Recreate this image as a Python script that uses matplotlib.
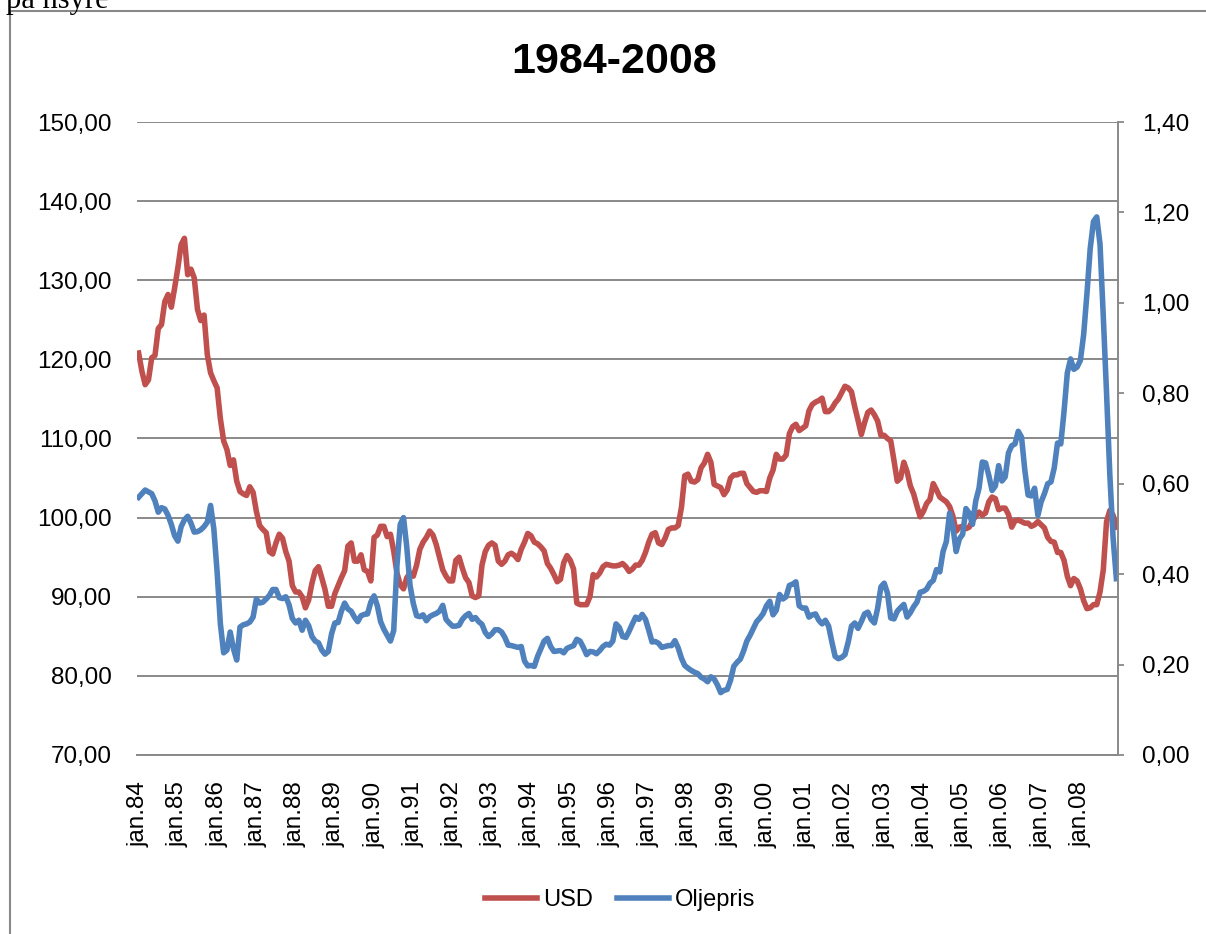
import matplotlib
matplotlib.use("Agg")
from matplotlib import pyplot as plt
from matplotlib.patches import Rectangle
from matplotlib.ticker import FuncFormatter
import numpy as np

# monthly values, jan 1984 - dec 2008 (one row per year)
usd = [
    120.8, 118.5, 116.8, 117.4, 120.2, 120.5, 123.9, 124.4, 127.3, 128.2, 126.6, 129.0,
    131.6, 134.5, 135.3, 130.7, 131.4, 130.3, 126.3, 124.9, 125.6, 120.6, 118.3, 117.3,
    116.4, 112.5, 109.7, 108.6, 106.6, 107.3, 104.6, 103.3, 103.0, 102.8, 103.9, 103.2,
    100.8, 99.0, 98.5, 98.1, 95.7, 95.4, 96.8, 97.9, 97.4, 95.7, 94.5, 91.4,
    90.6, 90.6, 90.0, 88.6, 89.6, 91.7, 93.3, 93.8, 92.4, 90.9, 88.8, 88.8,
    90.4, 91.4, 92.4, 93.3, 96.4, 96.8, 94.5, 94.5, 95.3, 93.4, 93.2, 92.0,
    97.5, 97.8, 98.9, 98.9, 97.6, 97.9, 95.8, 93.0, 91.5, 91.0, 92.4, 93.0,
    92.6, 94.0, 96.0, 96.9, 97.5, 98.3, 97.8, 96.6, 95.0, 93.4, 92.6, 92.0,
    92.0, 94.6, 95.0, 93.6, 92.4, 91.8, 90.1, 89.9, 90.1, 94.0, 95.7, 96.5,
    96.8, 96.5, 94.5, 94.1, 94.5, 95.3, 95.5, 95.2, 94.7, 96.0, 96.9, 98.0,
    97.7, 96.9, 96.7, 96.3, 95.8, 94.2, 93.6, 92.8, 91.9, 92.2, 94.3, 95.2,
    94.6, 93.5, 89.2, 89.0, 89.0, 89.0, 90.0, 92.8, 92.5, 93.0, 93.8, 94.1,
    94.0, 93.9, 93.9, 94.0, 94.2, 93.8, 93.2, 93.5, 94.0, 94.0, 94.6, 95.6,
    96.9, 97.9, 98.1, 96.8, 96.6, 97.4, 98.5, 98.7, 98.7, 99.0, 101.3, 105.3,
    105.5, 104.6, 104.5, 104.8, 106.3, 106.9, 108.0, 107.0, 104.2, 104.0, 103.8, 102.9,
    103.5, 105.0, 105.4, 105.4, 105.6, 105.6, 104.3, 103.8, 103.3, 103.2, 103.4, 103.4,
    103.3, 105.0, 106.0, 108.0, 107.4, 107.4, 107.9, 110.6, 111.5, 111.8, 111.0, 111.3,
    111.6, 113.5, 114.3, 114.6, 114.8, 115.1, 113.4, 113.4, 113.8, 114.5, 115.0, 115.8,
    116.6, 116.4, 115.9, 114.0, 112.3, 110.5, 112.0, 113.3, 113.6, 113.0, 112.2, 110.4,
    110.4, 110.0, 109.7, 107.2, 104.6, 105.0, 107.0, 105.8, 104.0, 103.0, 101.5, 100.1,
    100.8, 101.8, 102.3, 104.3, 103.5, 102.6, 102.3, 102.0, 101.4, 100.2, 98.3, 98.8,
    98.9, 98.6, 98.8, 99.6, 100.2, 100.7, 100.3, 100.6, 102.0, 102.6, 102.4, 101.0,
    101.2, 101.2, 100.4, 98.8, 99.6, 99.7, 99.5, 99.3, 99.3, 98.9, 99.1, 99.5,
    99.1, 98.7, 97.5, 97.0, 96.9, 95.6, 95.6, 94.6, 92.6, 91.4, 92.3, 92.0,
    91.0, 89.5, 88.5, 88.6, 89.0, 89.0, 90.6, 93.4, 99.5, 100.9, 100.3, 98.8,
]

oljepris = [
    0.570, 0.578, 0.586, 0.582, 0.578, 0.562, 0.537, 0.547, 0.544, 0.530, 0.510, 0.485,
    0.473, 0.505, 0.520, 0.528, 0.513, 0.493, 0.494, 0.498, 0.505, 0.515, 0.552, 0.500,
    0.405, 0.290, 0.226, 0.232, 0.272, 0.235, 0.210, 0.283, 0.288, 0.290, 0.294, 0.305,
    0.345, 0.336, 0.338, 0.345, 0.353, 0.366, 0.366, 0.348, 0.346, 0.350, 0.332, 0.302,
    0.292, 0.298, 0.276, 0.298, 0.286, 0.262, 0.252, 0.248, 0.232, 0.223, 0.229, 0.268,
    0.292, 0.293, 0.318, 0.336, 0.323, 0.318, 0.305, 0.295, 0.308, 0.311, 0.312, 0.338,
    0.352, 0.330, 0.295, 0.278, 0.265, 0.252, 0.275, 0.420, 0.510, 0.525, 0.460, 0.375,
    0.335, 0.308, 0.306, 0.310, 0.297, 0.306, 0.310, 0.313, 0.318, 0.331, 0.300, 0.292,
    0.285, 0.285, 0.287, 0.300, 0.308, 0.313, 0.300, 0.304, 0.295, 0.289, 0.271, 0.262,
    0.268, 0.277, 0.277, 0.272, 0.260, 0.243, 0.242, 0.240, 0.238, 0.240, 0.208, 0.197,
    0.198, 0.196, 0.218, 0.235, 0.252, 0.258, 0.240, 0.229, 0.230, 0.231, 0.226, 0.236,
    0.239, 0.242, 0.256, 0.252, 0.238, 0.222, 0.229, 0.228, 0.224, 0.231, 0.240, 0.245,
    0.243, 0.252, 0.290, 0.282, 0.262, 0.260, 0.274, 0.290, 0.305, 0.300, 0.311, 0.300,
    0.276, 0.250, 0.251, 0.247, 0.238, 0.240, 0.242, 0.242, 0.253, 0.237, 0.214, 0.198,
    0.192, 0.187, 0.183, 0.180, 0.172, 0.168, 0.162, 0.173, 0.168, 0.155, 0.138, 0.143,
    0.145, 0.165, 0.196, 0.205, 0.212, 0.230, 0.252, 0.265, 0.280, 0.295, 0.303, 0.313,
    0.330, 0.340, 0.310, 0.320, 0.355, 0.345, 0.350, 0.375, 0.378, 0.383, 0.330, 0.325,
    0.325, 0.305, 0.310, 0.312, 0.298, 0.290, 0.298, 0.285, 0.250, 0.218, 0.213, 0.216,
    0.222, 0.250, 0.285, 0.292, 0.280, 0.295, 0.312, 0.316, 0.300, 0.292, 0.325, 0.372,
    0.380, 0.358, 0.303, 0.301, 0.318, 0.326, 0.333, 0.305, 0.315, 0.328, 0.338, 0.360,
    0.362, 0.367, 0.380, 0.386, 0.410, 0.405, 0.450, 0.472, 0.535, 0.505, 0.450, 0.478,
    0.488, 0.545, 0.535, 0.510, 0.562, 0.590, 0.648, 0.646, 0.618, 0.585, 0.595, 0.640,
    0.606, 0.615, 0.668, 0.684, 0.688, 0.716, 0.703, 0.630, 0.575, 0.573, 0.590, 0.530,
    0.560, 0.578, 0.600, 0.604, 0.635, 0.690, 0.688, 0.760, 0.845, 0.876, 0.853, 0.858,
    0.873, 0.930, 1.020, 1.120, 1.180, 1.190, 1.130, 0.970, 0.800, 0.620, 0.480, 0.390,
]

years = list(range(1984, 2009))
xlabels = ["jan.%02d" % (y % 100) for y in years]

RED = "#C0504D"
BLUE = "#4F81BD"
GREY = "#898989"

plt.rcParams["font.family"] = ["Liberation Sans", "DejaVu Sans"]

W, H = 1206, 934
fig = plt.figure(figsize=(W / 100, H / 100), dpi=100)

# chart frame (cut by the page edge on the right and bottom)
fig.add_artist(Rectangle((10 / W, -0.1), 1.2, 1.1 - 11 / H, transform=fig.transFigure,
                         fill=False, ec=GREY, lw=1.5))
# leftover line of page text above the chart, cut at the top edge
fig.text(6 / W, 1 - 8 / H, "på nsyre", family="Liberation Serif", fontsize=22,
         ha="left", va="baseline")

ax = fig.add_axes([137 / W, 1 - 755 / H, 981 / W, 633 / H])
ax2 = ax.twinx()

months = np.arange(len(usd))
ax.plot(months, usd, color=RED, lw=4.0, label="USD")
ax2.plot(months, oljepris, color=BLUE, lw=4.0, label="Oljepris")

ax.set_xlim(-0.5, len(usd) - 0.5)
ax.set_xticks(months[::12])
ax.set_xticklabels(xlabels, rotation=90, fontsize=17.5)

comma = lambda v, p: ("%.2f" % v).replace(".", ",")
ax.set_ylim(70, 150)
ax.set_yticks(range(70, 151, 10))
ax.yaxis.set_major_formatter(FuncFormatter(comma))
ax2.set_ylim(0, 1.4)
ax2.set_yticks(np.linspace(0, 1.4, 8))
ax2.yaxis.set_major_formatter(FuncFormatter(comma))

ax.grid(axis="y", color=GREY, lw=1.4)
ax.set_axisbelow(True)
ax.tick_params(axis="y", length=0, pad=18, labelsize=17.5)
ax.tick_params(axis="x", length=0, pad=19)
ax2.tick_params(axis="y", length=4.5, width=1.3, color=GREY, pad=13, labelsize=17.5)

for s in ["top", "left", "right"]:
    ax.spines[s].set_visible(False)
ax.spines["bottom"].set_color(GREY)
ax.spines["bottom"].set_linewidth(1.4)
for s in ["top", "left", "bottom"]:
    ax2.spines[s].set_visible(False)
ax2.spines["right"].set_color(GREY)
ax2.spines["right"].set_linewidth(1.4)

fig.text(614 / W, 1 - 62 / H, "1984-2008", ha="center", va="center",
         fontsize=31, fontweight="bold")

h1, l1 = ax.get_legend_handles_labels()
h2, l2 = ax2.get_legend_handles_labels()
fig.legend(h1 + h2, l1 + l2, loc="center", bbox_to_anchor=(620 / W, 1 - 900 / H),
           ncol=2, frameon=False, fontsize=17, handlelength=2.2,
           handletextpad=0.25, columnspacing=1.0)

fig.savefig("out.png", dpi=100)
